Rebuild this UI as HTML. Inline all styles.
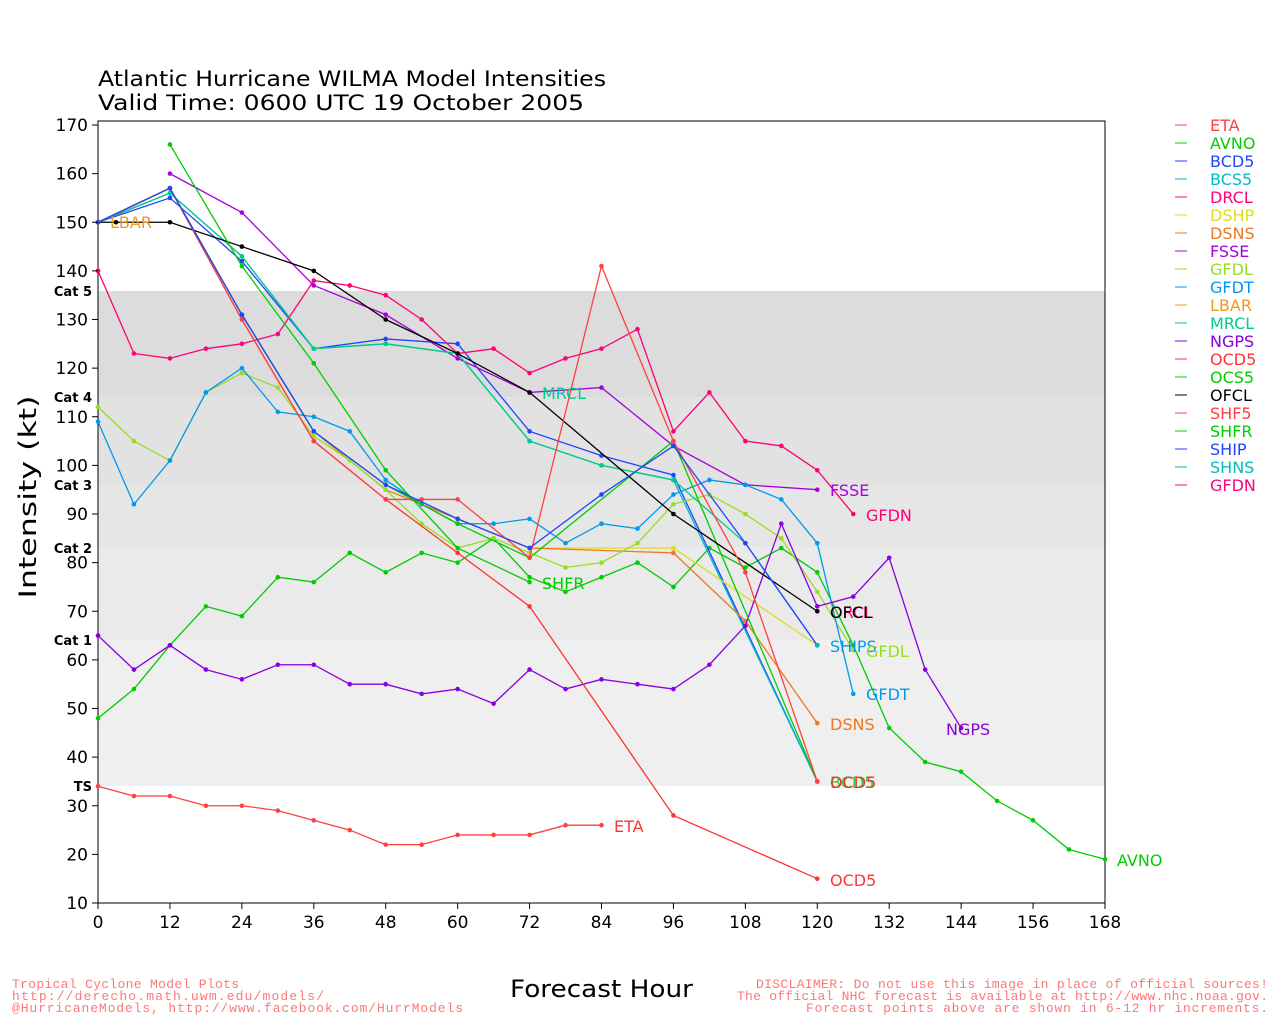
<!DOCTYPE html>
<html><head><meta charset="utf-8"><style>
body{margin:0;background:#fff;}
svg{display:block;font-family:"DejaVu Sans","Liberation Sans",sans-serif;}
</style></head><body>
<svg id="s" width="1280" height="1024" xmlns="http://www.w3.org/2000/svg">
<rect width="1280" height="1024" fill="#fff"/>
<rect x="98" y="291" width="1007" height="106" fill="#dcdcdc"/>
<rect x="98" y="397" width="1007" height="88" fill="#e2e2e2"/>
<rect x="98" y="485" width="1007" height="62" fill="#e6e6e6"/>
<rect x="98" y="547" width="1007" height="93" fill="#eaeaea"/>
<rect x="98" y="640" width="1007" height="146" fill="#efefef"/>
<rect x="98" y="121" width="1007" height="782" fill="none" stroke="#000" stroke-width="1"/>
<g id="grid"></g>
<g id="lines"></g>
<g font-size="16" fill="#000">
<text x="98" y="86" font-size="21" textLength="508" lengthAdjust="spacingAndGlyphs">Atlantic Hurricane WILMA Model Intensities</text>
<text x="98" y="110" font-size="21" textLength="486" lengthAdjust="spacingAndGlyphs">Valid Time: 0600 UTC 19 October 2005</text>
<text transform="translate(36,497) rotate(-90)" text-anchor="middle" font-size="24" textLength="203" lengthAdjust="spacingAndGlyphs">Intensity (kt)</text>
<text x="510" y="997" font-size="24" textLength="183" lengthAdjust="spacingAndGlyphs">Forecast Hour</text>
</g>
<g font-size="13" font-weight="bold" text-anchor="end">
<text x="92" y="296">Cat 5</text><text x="92" y="402">Cat 4</text><text x="92" y="490">Cat 3</text>
<text x="92" y="553">Cat 2</text><text x="92" y="645">Cat 1</text><text x="92" y="791">TS</text>
</g>
<g font-size="16">
<text x="110" y="228" fill="#ee9922">LBAR</text>
<text x="542" y="399" fill="#00cc88">MRCL</text>
<text x="542" y="589" fill="#00cc00">SHFR</text>
<text x="614" y="832" fill="#ff3333">ETA</text>
<text x="830" y="496" fill="#aa00dd">FSSE</text>
<text x="866" y="521" fill="#ff0077">GFDN</text>
<text x="830" y="618" fill="#ff0077">ORCL</text>
<text x="830" y="618" fill="#000">OFCL</text>
<text x="830" y="652" fill="#0099ee">SHIPS</text>
<text x="866" y="657" fill="#99dd22">GFDL</text>
<text x="866" y="700" fill="#0099ee">GFDT</text>
<text x="830" y="730" fill="#ee7722">DSNS</text>
<text x="830" y="788" fill="#33cc33">BCD5</text>
<text x="830" y="788" fill="#ee3333">OCD5</text>
<text x="946" y="735" fill="#8800dd">NGPS</text>
<text x="1117" y="866" fill="#00cc00">AVNO</text>
<text x="830" y="886" fill="#ff3333">OCD5</text>
</g>
<g id="leg" font-size="16"></g>
<g font-size="13" font-family="Liberation Mono,monospace" lengthAdjust="spacingAndGlyphs">
<text x="12" y="988" fill="#ff7777" textLength="227">Tropical Cyclone Model Plots</text>
<text x="12" y="1000" fill="#ff7777" textLength="312">http://derecho.math.uwm.edu/models/</text>
<text x="12" y="1012" fill="#ff7777" textLength="451">@HurricaneModels, http://www.facebook.com/HurrModels</text>
<text x="756" y="988" fill="#ff7777" textLength="512">DISCLAIMER: Do not use this image in place of official sources!</text>
<text x="737" y="1000" fill="#ff7777" textLength="531">The official NHC forecast is available at http://www.nhc.noaa.gov.</text>
<text x="806" y="1012" fill="#ff7777" textLength="462">Forecast points above are shown in 6-12 hr increments.</text>
</g>
<g id="ticks" font-size="17"></g>
</svg>
<script>
const NS="http://www.w3.org/2000/svg";
const X=h=>98+h*5.994, Y=k=>903-(k-10)*4.8625;
function el(t,a,p){const e=document.createElementNS(NS,t);for(const k in a)e.setAttribute(k,a[k]);p.appendChild(e);return e;}
const tk=document.getElementById('ticks');
for(let k=10;k<=170;k+=10){el('line',{x1:92,x2:98,y1:Y(k),y2:Y(k),stroke:'#000'},tk);const t=el('text',{x:88,y:Y(k)+6,'text-anchor':'end'},tk);t.textContent=k;}
for(let h=0;h<=168;h+=12){el('line',{x1:X(h),x2:X(h),y1:903,y2:909,stroke:'#000'},tk);const t=el('text',{x:X(h),y:928,'text-anchor':'middle'},tk);t.textContent=h;}
const S=[
["ETA","#ff4040","0:34,6:32,12:32,18:30,24:30,30:29,36:27,42:25,48:22,54:22,60:24,66:24,72:24,78:26,84:26"],
["AVNO","#00cc00","0:48,6:54,12:63,18:71,24:69,30:77,36:76,42:82,48:78,54:82,60:80,66:85,72:77,78:74,84:77,90:80,96:75,102:83,108:79,114:83,120:78,126:63,132:46,138:39,144:37,150:31,156:27,162:21,168:19"],
["BCD5","#2244ff","0:150,12:155,24:142,36:124,48:126,60:125,72:107,84:102,96:98,120:35"],
["BCS5","#00bbcc","0:150,12:156,24:143,36:124,48:125,60:123,72:105,84:100,96:97,120:35"],
["DRCL","#ff0077","0:140,6:123,12:122,18:124,24:125,30:127,36:138,42:137,48:135,54:130,60:123,66:124,72:119,78:122,84:124,90:128,96:107,102:115,108:105,114:104,120:99,126:90"],
["DSHP","#dddd22","0:150,12:157,24:131,36:107,48:95,60:89,72:83,96:83,120:63"],
["DSNS","#ee7722","0:150,12:157,24:131,36:107,48:95,60:89,72:83,96:82,108:68,120:47"],
["FSSE","#aa00dd","12:160,24:152,36:137,48:131,60:122,72:115,84:116,96:104,108:96,120:95"],
["GFDL","#99dd22","0:112,6:105,12:101,18:115,24:119,30:116,36:106,42:101,48:95,54:88,60:83,66:85,72:82,78:79,84:80,90:84,96:92,102:94,108:90,114:85,120:74,126:62"],
["GFDT","#0099ee","0:109,6:92,12:101,18:115,24:120,30:111,36:110,42:107,48:97,54:92,60:88,66:88,72:89,78:84,84:88,90:87,96:94,102:97,108:96,114:93,120:84,126:53"],
["LBAR","#ee9922","0:150"],
["MRCL","#00cc88","0:150,12:156,24:143,36:124,48:125,60:123,72:105,84:100,96:97,108:84,120:63"],
["NGPS","#8800dd","0:65,6:58,12:63,18:58,24:56,30:59,36:59,42:55,48:55,54:53,60:54,66:51,72:58,78:54,84:56,90:55,96:54,102:59,108:67,114:88,120:71,126:73,132:81,138:58,144:46"],
["OCD5","#ff3333","0:150,12:157,24:130,36:105,48:93,60:82,72:71,96:28,120:15"],
["OCS5","#00cc00","0:150,12:157,24:131,36:107,48:96,60:88,72:81,96:105,120:35"],
["OFCL","#000000","0:150,3:150,12:150,24:145,36:140,48:130,60:123,72:115,96:90,120:70"],
["SHF5","#ff4040","0:150,12:157,24:130,36:105,48:93,54:93,60:93,72:81,84:141,96:105,108:78,120:35"],
["SHFR","#00cc00","12:166,24:141,36:121,48:99,60:83,72:76"],
["SHIP","#2244ff","0:150,12:157,24:131,36:107,48:96,60:89,72:83,84:94,96:104,108:84,120:63"],
["SHNS","#00bbbb","120:63"],
["GFDN","#ff0077","0:140"]];
const L=document.getElementById('lines'),G=document.getElementById('leg');
S.forEach((s,i)=>{
 const pts=s[2].split(',').map(p=>p.split(':').map(Number));
 el('polyline',{points:pts.map(p=>X(p[0])+','+Y(p[1])).join(' '),fill:'none',stroke:s[1],'stroke-width':1.3},L);
 pts.forEach(p=>el('circle',{cx:X(p[0]),cy:Y(p[1]),r:2.3,fill:s[1]},L));
 const y=125+i*18;
 el('line',{x1:1175,x2:1187,y1:y,y2:y,stroke:s[1]},G);
 const t=el('text',{x:1210,y:y+6,fill:s[1]},G);t.textContent=s[0];
});
</script>
</body></html>
